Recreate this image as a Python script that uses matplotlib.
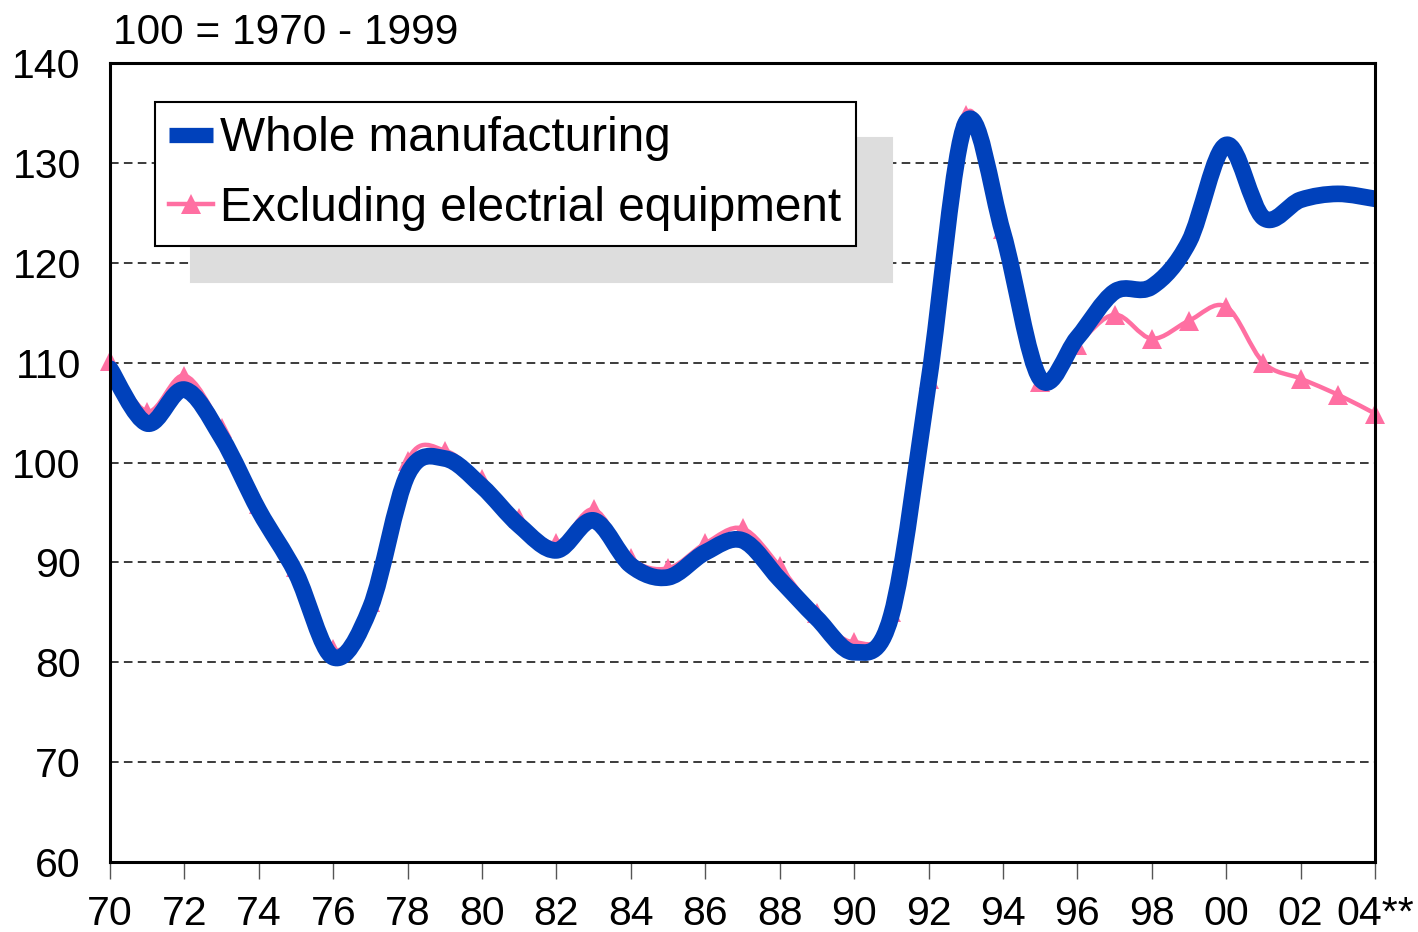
import numpy as np
import matplotlib
matplotlib.use("Agg")
import matplotlib.pyplot as plt
from matplotlib.path import Path
from matplotlib.patches import PathPatch
from matplotlib.lines import Line2D

plt.rcParams['font.family'] = ['Liberation Sans', 'DejaVu Sans']
plt.rcParams['lines.scale_dashes'] = False

years = list(range(1970, 2005))

# index, 100 = 1970-1999 average
whole = [109.4, 103.9, 107.3, 102.5, 95.2, 88.9, 80.5, 85.5, 98.8, 100.4,
         97.6, 93.7, 91.2, 94.2, 89.7, 88.5, 91.0, 92.2, 88.3, 84.4,
         81.0, 84.7, 108.0, 134.0, 123.0, 108.4, 112.5, 117.1, 117.6, 122.1,
         131.8, 124.5, 126.3, 126.9, 126.4]
excl_elec = [110.2, 105.1, 108.7, 103.5, 95.8, 89.5, 81.3, 86.0, 100.2, 101.2,
             98.3, 94.4, 91.9, 95.3, 90.4, 89.4, 91.9, 93.4, 89.6, 84.9,
             82.0, 85.0, 108.4, 134.8, 123.4, 108.1, 111.8, 114.8, 112.4, 114.2,
             115.6, 110.0, 108.4, 106.8, 104.9]

xtick_years = list(range(1970, 2005, 2))
xtick_labels = ['70', '72', '74', '76', '78', '80', '82', '84', '86', '88',
                '90', '92', '94', '96', '98', '00', '02', '04**']
yticks = [60, 70, 80, 90, 100, 110, 120, 130, 140]

BLUE = '#0041bb'
PINK = '#ff6fa2'


def smooth_path(x, y):
    # excel-style smoothed line: cubic bezier through every point
    pts = np.column_stack([x, y]).astype(float)
    n = len(pts)
    verts = [pts[0]]
    codes = [Path.MOVETO]
    for i in range(n - 1):
        p0 = pts[i - 1] if i > 0 else pts[i]
        p1 = pts[i]
        p2 = pts[i + 1]
        p3 = pts[i + 2] if i + 2 < n else pts[i + 1]
        c1 = p1 + (p2 - p0) / 6.0
        c2 = p2 - (p3 - p1) / 6.0
        verts += [c1, c2, p2]
        codes += [Path.CURVE4] * 3
    return Path(verts, codes)


fig = plt.figure(figsize=(14.18, 9.32), dpi=100)
ax = fig.add_axes([110 / 1418, 70 / 932, 1265 / 1418, 799 / 932])

ax.add_patch(PathPatch(smooth_path(years, excl_elec), fill=False,
                       edgecolor=PINK, linewidth=3.2, capstyle='round',
                       joinstyle='round', zorder=3))
ax.plot(years, excl_elec, linestyle='none', marker='^', markersize=14,
        color=PINK, markeredgewidth=0, zorder=3, clip_on=False)
ax.add_patch(PathPatch(smooth_path(years, whole), fill=False,
                       edgecolor=BLUE, linewidth=12, capstyle='round',
                       joinstyle='round', zorder=4))

ax.set_xlim(1970, 2004)
ax.set_ylim(60, 140)
ax.set_xticks(xtick_years)
ax.set_xticklabels(xtick_labels)
ax.set_yticks(yticks)
ax.tick_params(axis='x', direction='out', length=12, width=1, color='#555555',
               labelsize=29.5, pad=12)
ax.tick_params(axis='y', length=0, labelsize=29.5, pad=21)

for v in yticks[1:-1]:
    ax.axhline(v, color='#1a1a1a', linewidth=1.2, linestyle=(0, (6.2, 3.8)),
               zorder=1)

for s in ax.spines.values():
    s.set_linewidth(2.2)
    s.set_color('black')
    s.set_zorder(6)

handles = [Line2D([], [], color=BLUE, linewidth=11, solid_capstyle='butt'),
           Line2D([], [], color=PINK, linewidth=3.2, marker='^', markersize=14,
                  markeredgewidth=0)]
leg = ax.legend(handles, ['Whole manufacturing', 'Excluding electrial equipment'],
                loc='upper left', bbox_to_anchor=(45 / 1265, 760 / 799),
                borderaxespad=0, fontsize=34.4, handlelength=0.92,
                handletextpad=0.15, borderpad=0.3, labelspacing=0.52,
                fancybox=False, edgecolor='black', framealpha=1,
                shadow={'ox': 26, 'oy': -26, 'facecolor': '#dddddd',
                        'edgecolor': '#dddddd', 'alpha': 1})
leg.get_frame().set_linewidth(1.5)

fig.text(113 / 1418, 1 - 44 / 932, '100 = 1970 - 1999', fontsize=30.5,
         va='baseline', ha='left')

fig.savefig('out.png', dpi=100)
